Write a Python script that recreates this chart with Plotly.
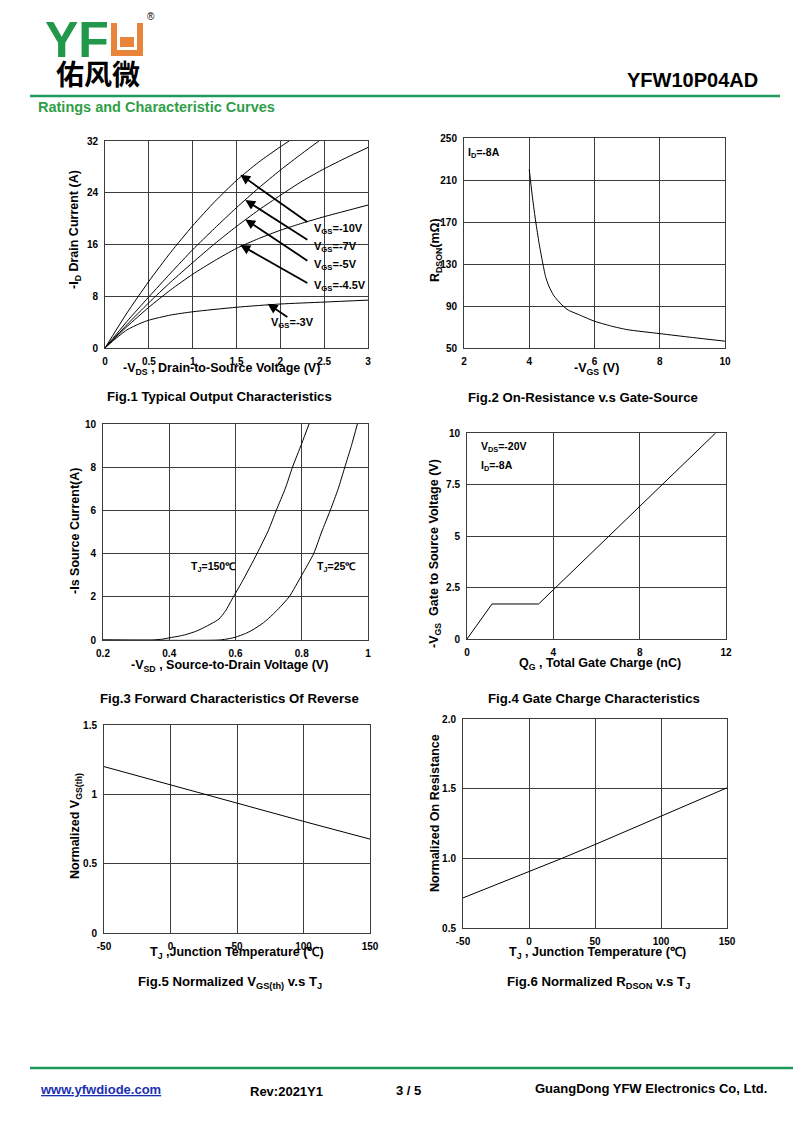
import plotly.graph_objects as go

W, H = 800, 1130
FONT = "Arial, 'Liberation Sans', sans-serif"
GRID = "#3c3c3c"

# ---------------- data ----------------
# Fig.1 output characteristics
f1_v10_x = [0, 0.25, 0.5, 0.75, 1.0, 1.25, 1.5, 1.75, 2.0, 2.1]
f1_v10_y = [0, 5.4, 10.3, 14.8, 18.9, 22.6, 25.9, 28.7, 31.1, 32]
f1_v7_x = [0, 0.25, 0.5, 0.75, 1.0, 1.25, 1.5, 1.75, 2.0, 2.25, 2.44]
f1_v7_y = [0, 4.1, 7.9, 11.6, 15.2, 18.5, 21.7, 24.7, 27.5, 30.1, 32]
f1_v5_x = [0, 0.25, 0.5, 0.75, 1.0, 1.25, 1.5, 1.75, 2.0, 2.25, 2.5, 2.75, 3.0]
f1_v5_y = [0, 3.6, 7.0, 10.2, 13.2, 16.1, 18.8, 21.3, 23.6, 25.8, 27.7, 29.4, 31.0]
f1_v45_x = [0, 0.25, 0.5, 0.75, 1.0, 1.25, 1.5, 1.75, 2.0, 2.25, 2.5, 2.75, 3.0]
f1_v45_y = [0, 3.3, 6.3, 9.0, 11.4, 13.5, 15.4, 16.9, 18.2, 19.3, 20.3, 21.2, 22.1]
f1_v3_x = [0, 0.1, 0.25, 0.4, 0.5, 0.75, 1.0, 1.5, 2.0, 2.5, 3.0]
f1_v3_y = [0, 1.2, 2.8, 3.8, 4.3, 5.1, 5.6, 6.3, 6.8, 7.1, 7.4]
f1_labels = ["V<sub>GS</sub>=-10V", "V<sub>GS</sub>=-7V", "V<sub>GS</sub>=-5V",
             "V<sub>GS</sub>=-4.5V", "V<sub>GS</sub>=-3V"]
f1_xticks = [0, 0.5, 1, 1.5, 2, 2.5, 3]
f1_xticktext = ["0", "0.5", "1", "1.5", "2", "2.5", "3"]
f1_yticks = [0, 8, 16, 24, 32]

# Fig.2 on-resistance vs gate-source
f2_vgs = [4.0, 4.1, 4.2, 4.3, 4.4, 4.5, 4.6, 4.75, 5.0, 5.2, 5.5, 6.0, 6.5, 7.0, 8.0, 9.0, 10.0]
f2_rds = [220, 193, 170, 150, 133, 118, 109, 100, 91, 86, 82, 75.5, 71, 67.5, 63.7, 60, 56.5]
f2_xticks = [2, 4, 6, 8, 10]
f2_yticks = [50, 90, 130, 170, 210, 250]

# Fig.3 forward characteristics of reverse diode
f3_t150_x = [0.2, 0.35, 0.38, 0.40, 0.43, 0.45, 0.48, 0.50, 0.53, 0.55, 0.57, 0.59, 0.62,
             0.665, 0.70, 0.723, 0.75, 0.772, 0.80, 0.822]
f3_t150_y = [0, 0.0, 0.04, 0.1, 0.18, 0.25, 0.4, 0.54, 0.78, 0.97, 1.35, 1.9, 2.7,
             4.0, 5.1, 6.0, 7.0, 8.0, 9.1, 10]
f3_t25_x = [0.2, 0.55, 0.58, 0.60, 0.63, 0.65, 0.68, 0.70, 0.73, 0.762, 0.80, 0.836, 0.86,
            0.886, 0.91, 0.93, 0.95, 0.968]
f3_t25_y = [0, 0, 0.06, 0.13, 0.3, 0.45, 0.75, 1.0, 1.45, 2.0, 3.0, 4.0, 5.0,
            6.0, 7.0, 8.0, 9.0, 10]
f3_xticks = [0.2, 0.4, 0.6, 0.8, 1.0]
f3_xticktext = ["0.2", "0.4", "0.6", "0.8", "1"]
f3_yticks = [0, 2, 4, 6, 8, 10]

# Fig.4 gate charge
f4_qg = [0, 1.16, 3.32, 11.52]
f4_vgs = [0, 1.7, 1.7, 10]
f4_xticks = [0, 4, 8, 12]
f4_yticks = [0, 2.5, 5, 7.5, 10]

# Fig.5 normalized VGS(th)
f5_tj = [-50, 0, 25, 50, 100, 150]
f5_vth = [1.2, 1.068, 1.0, 0.935, 0.805, 0.677]
f5_xticks = [-50, 0, 50, 100, 150]
f5_yticks = [0, 0.5, 1, 1.5]
f5_yticktext = ["0", "0.5", "1", "1.5"]

# Fig.6 normalized RDSON
f6_tj = [-50, 0, 25, 50, 100, 150]
f6_rds = [0.716, 0.903, 1.0, 1.099, 1.303, 1.506]
f6_xticks = [-50, 0, 50, 100, 150]
f6_yticks = [0.5, 1.0, 1.5, 2.0]
f6_yticktext = ["0.5", "1.0", "1.5", "2.0"]


def pxx(x):
    return x / W


def pxy(y):
    return 1 - y / H


fig = go.Figure()

# panel pixel boxes: (left, right, top, bottom)
boxes = [
    (105, 368, 141, 348),
    (464, 725, 138, 348),
    (103, 368, 424, 640),
    (467, 726, 433, 639),
    (104, 370, 725, 933),
    (463, 727, 719, 928),
]
ranges = [
    ([0, 3], [0, 32], f1_xticks, f1_xticktext, f1_yticks, [str(v) for v in f1_yticks]),
    ([2, 10], [50, 250], f2_xticks, [str(v) for v in f2_xticks], f2_yticks, [str(v) for v in f2_yticks]),
    ([0.2, 1.0], [0, 10], f3_xticks, f3_xticktext, f3_yticks, [str(v) for v in f3_yticks]),
    ([0, 12], [0, 10], f4_xticks, [str(v) for v in f4_xticks], f4_yticks, ["0", "2.5", "5", "7.5", "10"]),
    ([-50, 150], [0, 1.5], f5_xticks, [str(v) for v in f5_xticks], f5_yticks, f5_yticktext),
    ([-50, 150], [0.5, 2.0], f6_xticks, [str(v) for v in f6_xticks], f6_yticks, f6_yticktext),
]

layout = {}
for i, (box, rg) in enumerate(zip(boxes, ranges), start=1):
    l, r, t, b = box
    xr, yr, xt, xtt, yt, ytt = rg
    sfx = "" if i == 1 else str(i)
    common = dict(
        showgrid=True, gridcolor=GRID, gridwidth=1,
        showline=True, linecolor=GRID, linewidth=1, mirror=True,
        zeroline=False, ticks="", fixedrange=True,
        tickfont=dict(family=FONT, size=10, color="black", weight="bold"),
    )
    layout["xaxis" + sfx] = dict(
        domain=[pxx(l), pxx(r)], anchor="y" + sfx, range=xr,
        tickmode="array", tickvals=xt, ticktext=xtt, ticklabelstandoff=4, **common)
    layout["yaxis" + sfx] = dict(
        domain=[pxy(b), pxy(t)], anchor="x" + sfx, range=yr,
        tickmode="array", tickvals=yt, ticktext=ytt, ticklabelstandoff=4, **common)


def line(x, y, n, smooth=True):
    sfx = "" if n == 1 else str(n)
    fig.add_trace(go.Scatter(x=x, y=y, mode="lines",
                             line=dict(color="black", width=1,
                                       shape="spline" if smooth else "linear",
                                       smoothing=0.6),
                             xaxis="x" + sfx, yaxis="y" + sfx, showlegend=False,
                             hoverinfo="skip"))


line(f1_v10_x, f1_v10_y, 1)
line(f1_v7_x, f1_v7_y, 1)
line(f1_v5_x, f1_v5_y, 1)
line(f1_v45_x, f1_v45_y, 1)
line(f1_v3_x, f1_v3_y, 1)
line(f2_vgs, f2_rds, 2)
line(f3_t150_x, f3_t150_y, 3)
line(f3_t25_x, f3_t25_y, 3)
line(f4_qg, f4_vgs, 4, smooth=False)
line(f5_tj, f5_vth, 5, smooth=False)
line(f6_tj, f6_rds, 6, smooth=False)

ann = []


def txt(text, x, y, size=12.5, bold=True, color="black", angle=0, xanchor="center", family=FONT):
    ann.append(dict(text=text, x=pxx(x), y=pxy(y), xref="paper", yref="paper",
                    showarrow=False, textangle=angle, xanchor=xanchor, yanchor="middle",
                    font=dict(family=family, size=size, color=color,
                              weight="bold" if bold else "normal")))


def dtxt(text, x, y, n, size=11, xanchor="left"):
    sfx = "" if n == 1 else str(n)
    ann.append(dict(text=text, x=x, y=y, xref="x" + sfx, yref="y" + sfx, showarrow=False,
                    xanchor=xanchor, yanchor="middle",
                    font=dict(family=FONT, size=size, color="black", weight="bold")))


def arrow(x, y, ax, ay, n=1):
    sfx = "" if n == 1 else str(n)
    ann.append(dict(text="", x=x, y=y, ax=ax, ay=ay, xref="x" + sfx, yref="y" + sfx,
                    axref="x" + sfx, ayref="y" + sfx, showarrow=True, arrowhead=2,
                    arrowsize=1.1, arrowwidth=1.8, arrowcolor="black"))


# Fig1 arrows and labels
arrow(1.544, 26.8, 2.325, 19.3)
arrow(1.60, 22.86, 2.325, 16.6)
arrow(1.60, 19.88, 2.325, 13.35)
arrow(1.544, 15.92, 2.325, 9.91)
arrow(1.856, 6.83, 2.097, 4.62)
dtxt(f1_labels[0], 2.36, 18.4, 1)
dtxt(f1_labels[1], 2.36, 15.67, 1)
dtxt(f1_labels[2], 2.36, 12.84, 1)
dtxt(f1_labels[3], 2.36, 9.6, 1)
dtxt(f1_labels[4], 1.87, 3.85, 1)

# Fig2 label
dtxt("I<sub>D</sub>=-8A", 2.05, 236, 2, size=10.5)
# Fig3 labels
dtxt("T<sub>J</sub>=150℃", 0.46, 3.4, 3, size=10.5)
dtxt("T<sub>J</sub>=25℃", 0.84, 3.4, 3, size=10.5)
# Fig4 labels
dtxt("V<sub>DS</sub>=-20V", 0.55, 9.3, 4, size=10.5)
dtxt("I<sub>D</sub>=-8A", 0.55, 8.4, 4, size=10.5)

# axis titles
txt("-V<sub>DS</sub> , Drain-to-Source Voltage (V)", 221, 369)
txt("-I<sub>D</sub> Drain Current (A)", 75, 230, angle=-90)
txt("-V<sub>GS</sub> (V)", 596, 369)
txt("R<sub>DSON</sub>(mΩ)", 436, 250, angle=-90)
txt("-V<sub>SD</sub> , Source-to-Drain Voltage (V)", 230, 666)
txt("-Is Source Current(A)", 75, 531, angle=-90)
txt("Q<sub>G</sub> , Total Gate Charge (nC)", 600, 664)
txt("-V<sub>GS</sub>  Gate to Source Voltage (V)", 435, 553, angle=-90)
txt("T<sub>J</sub> ,Junction Temperature (℃)", 237, 953)
txt("Normalized V<sub>GS(th)</sub>", 76, 826, angle=-90)
txt("T<sub>J</sub> , Junction Temperature (℃)", 597, 953)
txt("Normalized On Resistance", 435, 813, angle=-90)

# captions
txt("Fig.1 Typical Output Characteristics", 219, 397, size=13.2)
txt("Fig.2 On-Resistance v.s Gate-Source", 583, 398, size=13.2)
txt("Fig.3 Forward Characteristics Of Reverse", 230, 698, size=13.2)
txt("Fig.4 Gate Charge Characteristics", 594, 698, size=13.2)
txt("Fig.5 Normalized V<sub>GS(th)</sub> v.s T<sub>J</sub>", 230, 982, size=13.2)
txt("Fig.6 Normalized R<sub>DSON</sub> v.s T<sub>J</sub>", 598, 982, size=13.2)

# header
txt("YF", 43, 40, size=50, color="#22984a", xanchor="left")
txt("®", 151, 17, size=10, bold=False)
txt("佑风微", 98, 73, size=28, family="'Noto Sans CJK SC', sans-serif")
txt("Ratings and Characteristic Curves", 36, 107, size=14.5, color="#2f9e48", xanchor="left")
txt("YFW10P04AD", 692, 80, size=20)

# footer
txt("<u>www.yfwdiode.com</u>", 38, 1089, size=13, color="#1a2fb0", xanchor="left")
txt("Rev:2021Y1", 286, 1091, size=13)
txt("3 / 5", 408, 1090, size=13)
txt("GuangDong YFW Electronics Co, Ltd.", 651, 1088, size=13)


def prect(x0, x1, y0, y1, color):
    return dict(type="rect", xref="paper", yref="paper", x0=pxx(x0), x1=pxx(x1),
                y0=pxy(y1), y1=pxy(y0), fillcolor=color, line=dict(width=0), layer="above")


ORANGE = "#e8853a"
shapes = [
    # logo orange "U" block with thin white inner outline
    prect(111, 143, 23, 56, ORANGE),
    prect(117, 120, 23, 50, "white"),
    prect(134, 137, 23, 50, "white"),
    prect(117, 137, 47, 50, "white"),
    prect(120, 134, 23, 37, "white"),
    # header line
    dict(type="line", xref="paper", yref="paper", x0=pxx(30), x1=pxx(780), y0=pxy(96), y1=pxy(96),
         line=dict(color="#1f9a5c", width=2.5)),
    # footer line
    dict(type="line", xref="paper", yref="paper", x0=pxx(30), x1=pxx(793), y0=pxy(1068), y1=pxy(1068),
         line=dict(color="#1f9a5c", width=2.5)),
]

fig.update_layout(
    width=W, height=H, margin=dict(l=0, r=0, t=0, b=0),
    paper_bgcolor="white", plot_bgcolor="white", template="none",
    showlegend=False, annotations=ann, shapes=shapes,
    font=dict(family=FONT, color="black"),
    **layout,
)

fig.write_html(
    "out.html",
    config={"displayModeBar": False, "staticPlot": True},
    post_script="document.body.style.margin='0';document.body.style.padding='0';"
                "document.body.style.overflow='hidden';",
)
